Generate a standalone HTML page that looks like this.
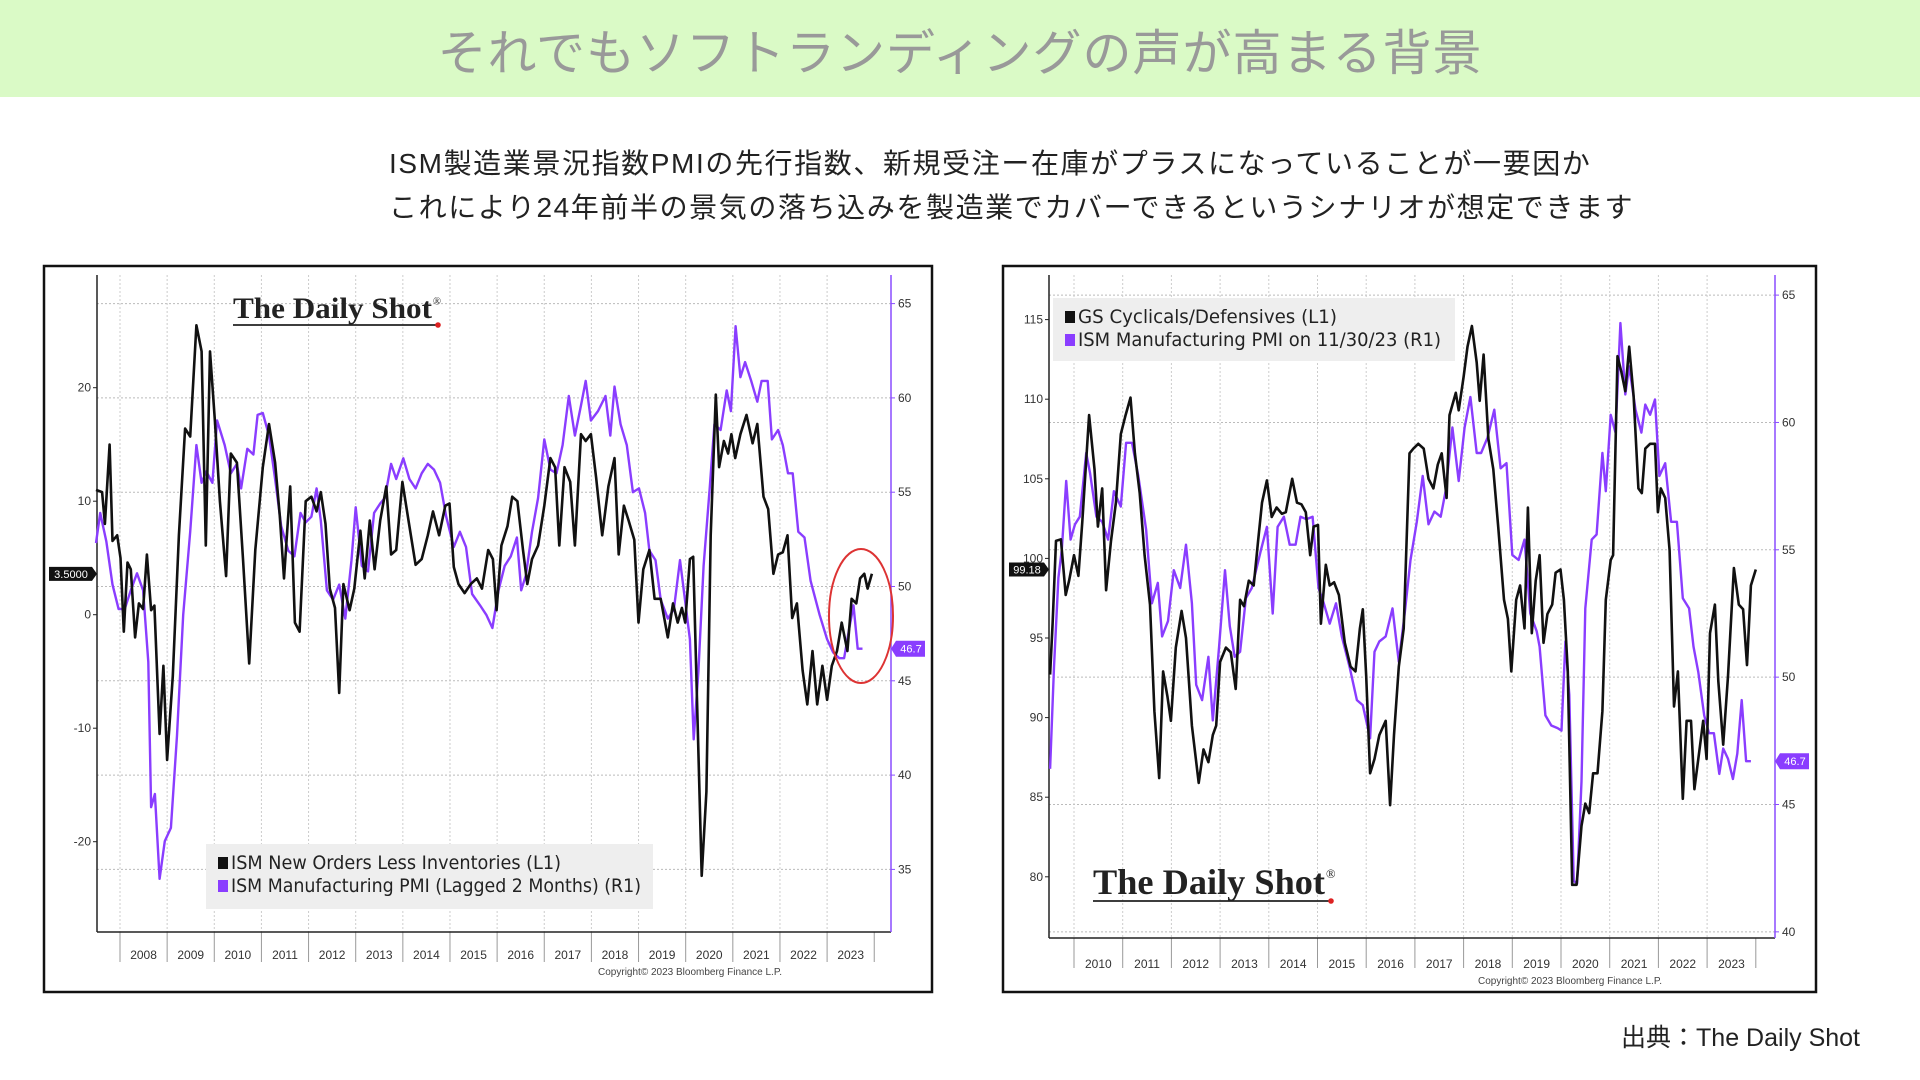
<!DOCTYPE html>
<html><head><meta charset="utf-8">
<style>
html,body{margin:0;padding:0;background:#fff;}
body{width:1920px;height:1080px;position:relative;overflow:hidden;font-family:"Liberation Sans","Noto Sans CJK JP",sans-serif;}
#titlebar{position:absolute;left:0;top:0;width:1920px;height:97px;background:#dafac6;}
#title{position:absolute;left:0;top:14px;width:1920px;text-align:center;font-size:49px;color:#999;letter-spacing:1px;}
.sub{position:absolute;left:389px;font-size:28px;color:#222;letter-spacing:1.6px;white-space:nowrap;}
#source{position:absolute;right:60px;top:1018px;font-size:25px;color:#222;}
svg{position:absolute;left:0;top:0;}
</style></head>
<body>
<div id="titlebar"></div>
<div id="title">それでもソフトランディングの声が高まる背景</div>
<div class="sub" style="top:142px">ISM製造業景況指数PMIの先行指数、新規受注ー在庫がプラスになっていることが一要因か</div>
<div class="sub" style="top:186px">これにより24年前半の景気の落ち込みを製造業でカバーできるというシナリオが想定できます</div>
<div id="source">出典：The Daily Shot</div>
<svg id="chart" width="1920" height="1080"></svg>
<script>
// ---- Left chart data ----
const leftBlackYears=[2007.49,2007.62,2007.68,2007.78,2007.84,2007.94,2008.01,2008.08,2008.16,2008.23,2008.32,2008.40,2008.49,2008.57,2008.66,2008.73,2008.84,2008.92,2009.00,2009.12,2009.25,2009.38,2009.49,2009.62,2009.73,2009.82,2009.91,2010.01,2010.12,2010.25,2010.35,2010.48,2010.61,2010.74,2010.87,2011.03,2011.16,2011.29,2011.39,2011.48,2011.61,2011.71,2011.81,2011.94,2012.06,2012.17,2012.26,2012.36,2012.45,2012.56,2012.65,2012.74,2012.87,2012.97,2013.10,2013.19,2013.30,2013.40,2013.52,2013.65,2013.75,2013.86,2013.99,2014.12,2014.27,2014.40,2014.53,2014.64,2014.77,2014.90,2014.99,2015.08,2015.18,2015.31,2015.44,2015.57,2015.68,2015.81,2015.91,2015.99,2016.09,2016.22,2016.32,2016.43,2016.55,2016.64,2016.74,2016.87,2017.00,2017.13,2017.23,2017.32,2017.43,2017.55,2017.65,2017.78,2017.88,2017.99,2018.10,2018.23,2018.36,2018.49,2018.58,2018.69,2018.79,2018.91,2019.00,2019.10,2019.23,2019.34,2019.47,2019.62,2019.73,2019.83,2019.92,2019.99,2020.09,2020.16,2020.22,2020.34,2020.44,2020.53,2020.64,2020.71,2020.81,2020.90,2020.97,2021.05,2021.16,2021.29,2021.42,2021.52,2021.65,2021.75,2021.86,2021.96,2022.06,2022.16,2022.26,2022.36,2022.48,2022.58,2022.69,2022.79,2022.90,2023.00,2023.10,2023.21,2023.31,2023.43,2023.52,2023.62,2023.70,2023.79,2023.86,2023.95];
const leftBlackValues=[11,10.8,8,15,6.5,7,5,-1.5,4.6,4,-2,1,0.5,5.3,0.4,0.8,-10.5,-4.5,-12.8,-5.4,7,16.4,15.7,25.5,23.2,6.1,23.2,17.2,10,3.4,14.2,13.4,4.9,-4.3,5.7,13,16.8,13.4,8.7,3.2,11.3,-0.7,-1.5,10,10.4,9.1,10.8,8,2.3,0.6,-6.9,2.7,0.4,2.3,7.4,3.2,8.3,4,8.3,11.3,5.3,5.7,11.7,8.3,4.4,4.9,7,9.1,7,9.6,9.8,4.2,2.7,1.9,2.7,3.2,2.3,5.7,4.9,0.4,6.1,7.8,10.4,10,5.7,2.7,4.9,6.1,9.6,13.8,13,6.1,13,11.7,6.1,15.9,15.3,15.9,12.1,7,11.3,13.8,5.3,9.6,8.3,6.6,-0.7,4,5.7,1.4,1.4,-2,1,-0.7,0.6,-0.7,4.9,5.1,-4.5,-23,-15.6,7,19.4,13,15.3,14.2,15.9,13.8,15.9,17.6,15.1,16.8,10.4,9.3,3.6,5.3,5.5,7,-0.3,1,-4.9,-7.9,-3.2,-7.9,-4.5,-7.5,-4.5,-3.2,-0.7,-3.2,1.4,1,3.2,3.6,2.3,3.6];
const leftPurpleYears=[2007.49,2007.58,2007.71,2007.84,2007.97,2008.10,2008.23,2008.36,2008.49,2008.60,2008.66,2008.74,2008.84,2008.95,2009.08,2009.21,2009.34,2009.49,2009.62,2009.73,2009.83,2009.96,2010.06,2010.22,2010.35,2010.48,2010.57,2010.70,2010.83,2010.92,2011.03,2011.16,2011.29,2011.42,2011.57,2011.70,2011.83,2011.94,2012.06,2012.17,2012.26,2012.39,2012.52,2012.65,2012.78,2012.91,2013.00,2013.13,2013.26,2013.39,2013.52,2013.62,2013.75,2013.86,2014.01,2014.14,2014.27,2014.40,2014.53,2014.66,2014.79,2014.92,2015.08,2015.21,2015.34,2015.47,2015.64,2015.77,2015.90,2016.03,2016.16,2016.29,2016.42,2016.51,2016.61,2016.74,2016.87,2017.00,2017.13,2017.26,2017.39,2017.52,2017.65,2017.78,2017.88,2017.99,2018.14,2018.30,2018.40,2018.49,2018.62,2018.75,2018.88,2019.01,2019.14,2019.23,2019.36,2019.47,2019.62,2019.75,2019.88,2019.96,2020.09,2020.17,2020.27,2020.38,2020.51,2020.61,2020.74,2020.87,2020.96,2021.06,2021.16,2021.26,2021.39,2021.52,2021.61,2021.74,2021.83,2021.96,2022.06,2022.17,2022.27,2022.39,2022.52,2022.65,2022.84,2023.00,2023.13,2023.26,2023.36,2023.47,2023.56,2023.65,2023.75];
const leftPurpleValues=[52.3,53.9,52.4,50.1,48.8,48.8,49.8,50.7,49.8,46,38.3,39,34.5,36.5,37.2,42.1,48.5,52.9,57.5,55.5,56.1,55.5,58.8,57.5,56,56.5,55.2,57.3,57,59.1,59.2,58,55.7,53.2,51.9,51.6,53.9,53.4,53.7,55.2,53.5,49.8,49.3,50.1,48.3,51.4,54.2,51.1,50.8,53.9,54.4,54.7,56.5,55.7,56.8,55.7,55.2,56,56.5,56.2,55.5,53.7,52.1,52.9,52.1,49.6,49,48.5,47.8,49.8,51.1,51.6,52.6,49.8,50.6,52.9,54.7,57.8,56.2,56,57.5,60.1,58,59.6,60.9,58.8,59.3,60.1,58,60.6,58.6,57.5,55,55.2,53.9,51.9,51.4,49.3,48.3,48.8,51.4,49.8,47.2,41.9,45.5,51.1,55.2,58.6,58.3,60.4,59.3,63.8,61.1,61.9,60.9,59.8,60.9,60.9,57.8,58.3,57.5,56,56,52.9,52.6,50.3,48.5,47.2,46.5,46.2,46.2,47.8,49,46.7,46.7];
const leftL1Ticks=[20,10,0,-10,-20];
const leftR1Ticks=[65,60,55,50,45,40,35];
const leftYearLabels=[2008,2009,2010,2011,2012,2013,2014,2015,2016,2017,2018,2019,2020,2021,2022,2023];

// ---- Right chart data ----
const rightBlackYears=[2009.51,2009.56,2009.63,2009.73,2009.83,2009.90,2010.00,2010.09,2010.17,2010.31,2010.42,2010.49,2010.58,2010.66,2010.76,2010.86,2010.96,2011.06,2011.16,2011.25,2011.35,2011.45,2011.56,2011.65,2011.75,2011.83,2011.92,2011.99,2012.09,2012.21,2012.30,2012.42,2012.56,2012.66,2012.76,2012.85,2012.92,2013.00,2013.12,2013.22,2013.32,2013.41,2013.49,2013.59,2013.69,2013.78,2013.86,2013.96,2014.06,2014.16,2014.27,2014.35,2014.48,2014.58,2014.67,2014.76,2014.85,2014.92,2015.01,2015.07,2015.17,2015.25,2015.34,2015.44,2015.56,2015.68,2015.78,2015.87,2015.93,2016.00,2016.08,2016.17,2016.27,2016.40,2016.49,2016.57,2016.67,2016.77,2016.89,2016.97,2017.07,2017.18,2017.28,2017.38,2017.47,2017.55,2017.65,2017.71,2017.84,2017.90,2018.00,2018.08,2018.17,2018.27,2018.33,2018.41,2018.51,2018.61,2018.71,2018.83,2018.91,2018.98,2019.08,2019.16,2019.25,2019.32,2019.40,2019.48,2019.56,2019.64,2019.72,2019.82,2019.89,2019.99,2020.06,2020.14,2020.23,2020.32,2020.42,2020.50,2020.58,2020.66,2020.75,2020.85,2020.92,2021.02,2021.07,2021.16,2021.24,2021.32,2021.40,2021.49,2021.59,2021.66,2021.73,2021.83,2021.93,2021.99,2022.05,2022.14,2022.23,2022.32,2022.40,2022.50,2022.58,2022.67,2022.74,2022.82,2022.92,2022.99,2023.06,2023.16,2023.23,2023.33,2023.43,2023.55,2023.65,2023.74,2023.82,2023.90,2024.00];
const rightBlackValues=[92.7,95.9,101.1,101.2,97.7,98.6,100.2,98.9,102.3,109,105.6,102,104.4,98,101.1,103.5,107.8,109,110.1,106.6,104.1,100.2,97.1,90.4,86.2,92.9,91.3,89.8,94.4,96.7,95,89.5,85.9,88,87.2,88.9,89.5,93.5,94.4,94.1,91.8,97.4,97,98.6,98.3,101.1,103.5,104.9,102.6,103.2,102.8,102.9,105,103.5,103.4,102.9,100.2,102,102.1,95.9,99.6,98.3,98.5,97.7,94.7,93.2,92.9,95.6,96.8,92.6,86.5,87.4,88.9,89.8,84.5,88.9,93.2,95.6,106.6,106.9,107.2,106.9,105,104.4,105.9,106.6,103.8,109,110.4,109.3,111.4,113.3,114.6,112.3,109.9,112.8,107.5,105.6,102,97.4,96.2,92.9,97.4,98.3,95.6,103.2,95.3,98.6,100.2,94.7,96.5,97.1,99.1,99.3,97.4,92.9,79.5,79.5,83.2,84.6,84,86.5,86.5,90.4,97.4,99.9,100.2,112.7,111.7,110.5,113.3,110.2,104.4,104.1,106.9,107.2,107.2,102.9,104.4,103.8,100.5,90.7,92.9,84.9,89.8,89.8,85.5,87.4,89.8,87.4,95.3,97.1,92.3,88.3,92.6,99.4,97.1,96.8,93.3,98.3,99.3];
const rightPurpleYears=[2009.51,2009.59,2009.68,2009.75,2009.84,2009.93,2010.02,2010.12,2010.25,2010.33,2010.46,2010.58,2010.70,2010.82,2010.96,2011.07,2011.19,2011.32,2011.48,2011.60,2011.72,2011.81,2011.93,2012.05,2012.18,2012.30,2012.42,2012.51,2012.63,2012.76,2012.85,2012.98,2013.10,2013.20,2013.30,2013.41,2013.53,2013.65,2013.84,2013.96,2014.08,2014.18,2014.31,2014.43,2014.55,2014.65,2014.77,2014.90,2015.02,2015.13,2015.25,2015.38,2015.50,2015.66,2015.81,2015.93,2016.08,2016.17,2016.27,2016.40,2016.54,2016.67,2016.79,2016.91,2017.04,2017.16,2017.28,2017.40,2017.53,2017.63,2017.77,2017.90,2018.02,2018.14,2018.27,2018.36,2018.49,2018.63,2018.76,2018.88,2019.00,2019.13,2019.25,2019.37,2019.50,2019.56,2019.68,2019.80,2019.93,2020.01,2020.09,2020.17,2020.26,2020.33,2020.42,2020.50,2020.63,2020.73,2020.85,2020.92,2021.02,2021.12,2021.22,2021.32,2021.40,2021.53,2021.65,2021.73,2021.83,2021.93,2022.02,2022.14,2022.26,2022.38,2022.50,2022.63,2022.72,2022.82,2022.94,2023.04,2023.14,2023.25,2023.33,2023.43,2023.53,2023.62,2023.71,2023.80,2023.90];
const rightPurpleValues=[46.4,50.4,53.9,55,57.7,55.4,56,56.3,58.8,58,56.3,56.1,55.4,57.3,56.7,59.2,59.2,57.9,55.8,52.9,53.7,51.6,52.2,54.2,53.5,55.2,52.9,49.7,49.1,50.8,48.3,51.2,54.2,52,50.8,51,53.1,53.5,55,55.9,52.5,55.9,56.3,55.2,55.2,56.3,56.2,56.3,53.5,52.9,52.1,52.9,51.6,50.4,49.1,48.9,47.6,51,51.4,51.6,52.7,50.6,52.5,54.6,56.1,57.9,56,56.5,56.3,57.3,59.8,57.7,59.8,61,58.8,58.8,59.4,60.5,58.2,58.4,54.8,54.6,55.4,52.5,51.8,51.2,48.5,48.1,48,47.9,51.4,49.3,42,41.9,45.9,52.7,55.4,55.6,58.8,57.3,60.3,59.6,63.9,61.1,62.2,60.5,59.6,60.7,60.3,60.9,57.9,58.4,56.1,56.1,53.1,52.7,51.2,50.2,48.5,47.8,47.8,46.2,47.2,46.8,46,47,49.1,46.7,46.7];
const rightL1Ticks=[115,110,105,100,95,90,85,80];
const rightR1Ticks=[65,60,55,50,45,40];
const rightYearLabels=[2010,2011,2012,2013,2014,2015,2016,2017,2018,2019,2020,2021,2022,2023];

const NS='http://www.w3.org/2000/svg';
const svg=document.getElementById('chart');
function mk(tag,attrs,parent){const e=document.createElementNS(NS,tag);for(const k in attrs)e.setAttribute(k,attrs[k]);(parent||svg).appendChild(e);return e;}

function drawChart(cfg){
  const g=mk('g',{});
  
  
  const X=y=>cfg.x0+(y-cfg.yr0)*cfg.pxYear;
  const YL=v=>cfg.l0y+(cfg.l0v-v)*cfg.lpx;
  const YR=v=>cfg.r0y+(cfg.r0v-v)*cfg.rpx;
  const fr=mk('rect',{x:cfg.box[0],y:cfg.box[1],width:cfg.box[2],height:cfg.box[3],fill:'#fff',stroke:'#111','stroke-width':2.5},g);
  
  
  cfg.rTicks.forEach(t=>{
    const l=mk('line',{x1:cfg.pl,x2:cfg.pr,y1:YR(t),y2:YR(t),stroke:'#bbb','stroke-dasharray':'2,2','stroke-width':1},g);
    
    
  });
  cfg.years.forEach(yr=>{
    const xb=X(yr);
    const l=mk('line',{x1:xb,x2:xb,y1:cfg.pt,y2:cfg.pb,stroke:'#ccc','stroke-dasharray':'2,2','stroke-width':1},g);
    
    
    const s=mk('line',{x1:xb,x2:xb,y1:cfg.pb,y2:cfg.pb+30,stroke:'#999','stroke-width':1},g);
    
    
    const t=mk('text',{x:X(yr+0.5),y:cfg.yearY,'text-anchor':'middle','font-size':12,fill:'#333','font-family':'Liberation Sans Narrow, Liberation Sans, sans-serif'},g);
    t.textContent=yr;
    
    
  });
  const last=cfg.years[cfg.years.length-1]+1;
  mk('line',{x1:X(last),x2:X(last),y1:cfg.pb,y2:cfg.pb+30,stroke:'#999','stroke-width':1},g);
  const ax=mk('line',{x1:cfg.pl,x2:cfg.pl,y1:cfg.pt,y2:cfg.pb,stroke:'#222','stroke-width':1.5},g);
  
  
  const bx=mk('line',{x1:cfg.pl,x2:cfg.pr,y1:cfg.pb,y2:cfg.pb,stroke:'#222','stroke-width':1.5},g);
  
  
  const rx=mk('line',{x1:cfg.pr,x2:cfg.pr,y1:cfg.pt,y2:cfg.pb,stroke:'#8a4dff','stroke-width':1.5},g);
  
  
  cfg.lTicks.forEach(t=>{
    mk('line',{x1:cfg.pl-4,x2:cfg.pl,y1:YL(t),y2:YL(t),stroke:'#222'},g);
    const tx=mk('text',{x:cfg.pl-6,y:YL(t)+4,'text-anchor':'end','font-size':12,fill:'#333','font-family':'Liberation Sans Narrow, Liberation Sans, sans-serif'},g);
    tx.textContent=t;
    
    
  });
  cfg.rTicks.forEach(t=>{
    mk('line',{x1:cfg.pr,x2:cfg.pr+4,y1:YR(t),y2:YR(t),stroke:'#8a4dff'},g);
    const tx=mk('text',{x:cfg.pr+7,y:YR(t)+4,'font-size':12,fill:'#333','font-family':'Liberation Sans Narrow, Liberation Sans, sans-serif'},g);
    tx.textContent=t;
    
    
  });
  const pp=cfg.pYears.map((y,i)=>X(y).toFixed(1)+','+YR(cfg.pVals[i]).toFixed(1)).join(' ');
  const p=mk('polyline',{points:pp,fill:'none',stroke:'#8a3dff','stroke-width':2.4,'stroke-linejoin':'round'},g);
  
  
  const bp=cfg.bYears.map((y,i)=>X(y).toFixed(1)+','+YL(cfg.bVals[i]).toFixed(1)).join(' ');
  const b=mk('polyline',{points:bp,fill:'none',stroke:'#111','stroke-width':2.6,'stroke-linejoin':'round'},g);
  
  
  const lb=cfg.bVals[cfg.bVals.length-1];
  const lt=mk('g',{},g);
  
  
  mk('polygon',{points:`${cfg.pl-cfg.tagLW},${YL(lb)-7} ${cfg.pl-5},${YL(lb)-7} ${cfg.pl},${YL(lb)} ${cfg.pl-5},${YL(lb)+7} ${cfg.pl-cfg.tagLW},${YL(lb)+7}`,fill:'#111'},lt);
  const ltt=mk('text',{x:cfg.pl-cfg.tagLW/2-2,y:YL(lb)+4,'text-anchor':'middle','font-size':11,fill:'#fff','font-family':'Liberation Sans Narrow, Liberation Sans, sans-serif'},lt);
  ltt.textContent=cfg.tagL;
  const lp=cfg.pVals[cfg.pVals.length-1];
  const rt=mk('g',{},g);
  
  
  mk('polygon',{points:`${cfg.pr},${YR(lp)} ${cfg.pr+5},${YR(lp)-8} ${cfg.pr+34},${YR(lp)-8} ${cfg.pr+34},${YR(lp)+8} ${cfg.pr+5},${YR(lp)+8}`,fill:'#8a3dff'},rt);
  const rtt=mk('text',{x:cfg.pr+20,y:YR(lp)+4,'text-anchor':'middle','font-size':11,fill:'#fff','font-family':'Liberation Sans Narrow, Liberation Sans, sans-serif'},rt);
  rtt.textContent=lp.toFixed(1);
  const c=mk('text',{x:cfg.copyX,y:cfg.copyY,'text-anchor':'middle','font-size':10,fill:'#444','font-family':'Liberation Sans Narrow, Liberation Sans, sans-serif'},g);
  c.textContent='Copyright© 2023 Bloomberg Finance L.P.';
  
  
  const lg=mk('g',{},g);
  
  
  mk('rect',{x:cfg.leg[0],y:cfg.leg[1],width:cfg.leg[2],height:cfg.leg[3],fill:'#eeeeee'},lg);
  cfg.legText.forEach((s,i)=>{
    const yy=cfg.leg[1]+25+i*23;
    mk('rect',{x:cfg.leg[0]+12,y:yy-12,width:10,height:12,fill:i?'#8a3dff':'#111'},lg);
    const t=mk('text',{x:cfg.leg[0]+25,y:yy,'font-size':19,fill:'#222','font-family':'Liberation Sans Narrow, DejaVu Sans Condensed, Liberation Sans, sans-serif',textLength:cfg.legW[i],lengthAdjust:'spacingAndGlyphs'},lg);
    t.textContent=s;
    
    
  });
  const lo=mk('g',{},g);
  
  
  const lt2=mk('text',{x:cfg.logo[0],y:cfg.logo[1],'font-size':cfg.logo[2],'font-weight':'bold',fill:'#222','font-family':'Liberation Serif, serif',textLength:cfg.logo[3]-6,lengthAdjust:'spacingAndGlyphs'},lo);
  lt2.textContent='The Daily Shot';
  mk('text',{x:cfg.logo[0]+cfg.logo[3]-5,y:cfg.logo[1]-cfg.logo[2]*0.45,'font-size':cfg.logo[2]*0.35,fill:'#222','font-family':'Liberation Serif, serif'},lo).textContent='®';
  mk('line',{x1:cfg.logo[0],x2:cfg.logo[0]+cfg.logo[3],y1:cfg.logo[1]+7,y2:cfg.logo[1]+7,stroke:'#222','stroke-width':1.8},lo);
  mk('circle',{cx:cfg.logo[0]+cfg.logo[3],cy:cfg.logo[1]+7,r:2.8,fill:'#d22'},lo);
  return g;
}

drawChart({name:'left-chart',box:[44,266,888,726],pl:97,pr:891,pt:275,pb:932,
  x0:120,yr0:2008,pxYear:47.14,l0y:614.7,l0v:0,lpx:11.35,r0y:586.5,r0v:50,rpx:18.86,
  years:leftYearLabels,yearY:959,lTicks:leftL1Ticks,rTicks:leftR1Ticks,
  bYears:leftBlackYears,bVals:leftBlackValues,pYears:leftPurpleYears,pVals:leftPurpleValues,
  tagL:'3.5000',tagLW:48,copyX:690,copyY:975,leg:[206,844,447,65],
  legText:['ISM New Orders Less Inventories (L1)','ISM Manufacturing PMI (Lagged 2 Months) (R1)'],legW:[330,410],
  logo:[233,318,30,205]});
drawChart({name:'right-chart',box:[1003,266,813,726],pl:1049,pr:1775,pt:275,pb:938,
  x0:1074,yr0:2010,pxYear:48.7,l0y:319.6,l0v:115,lpx:15.92,r0y:295.1,r0v:65,rpx:25.47,
  years:rightYearLabels,yearY:968,lTicks:rightL1Ticks,rTicks:rightR1Ticks,
  bYears:rightBlackYears,bVals:rightBlackValues,pYears:rightPurpleYears,pVals:rightPurpleValues,
  tagL:'99.18',tagLW:40,copyX:1570,copyY:984,leg:[1053,298,402,63],
  legText:['GS Cyclicals/Defensives (L1)','ISM Manufacturing PMI on 11/30/23 (R1)'],legW:[259,363],
  logo:[1093,894,36,238]});

const el=mk('ellipse',{cx:861,cy:616,rx:32,ry:67,fill:'none',stroke:'#d33','stroke-width':2});


</script>
</body></html>
